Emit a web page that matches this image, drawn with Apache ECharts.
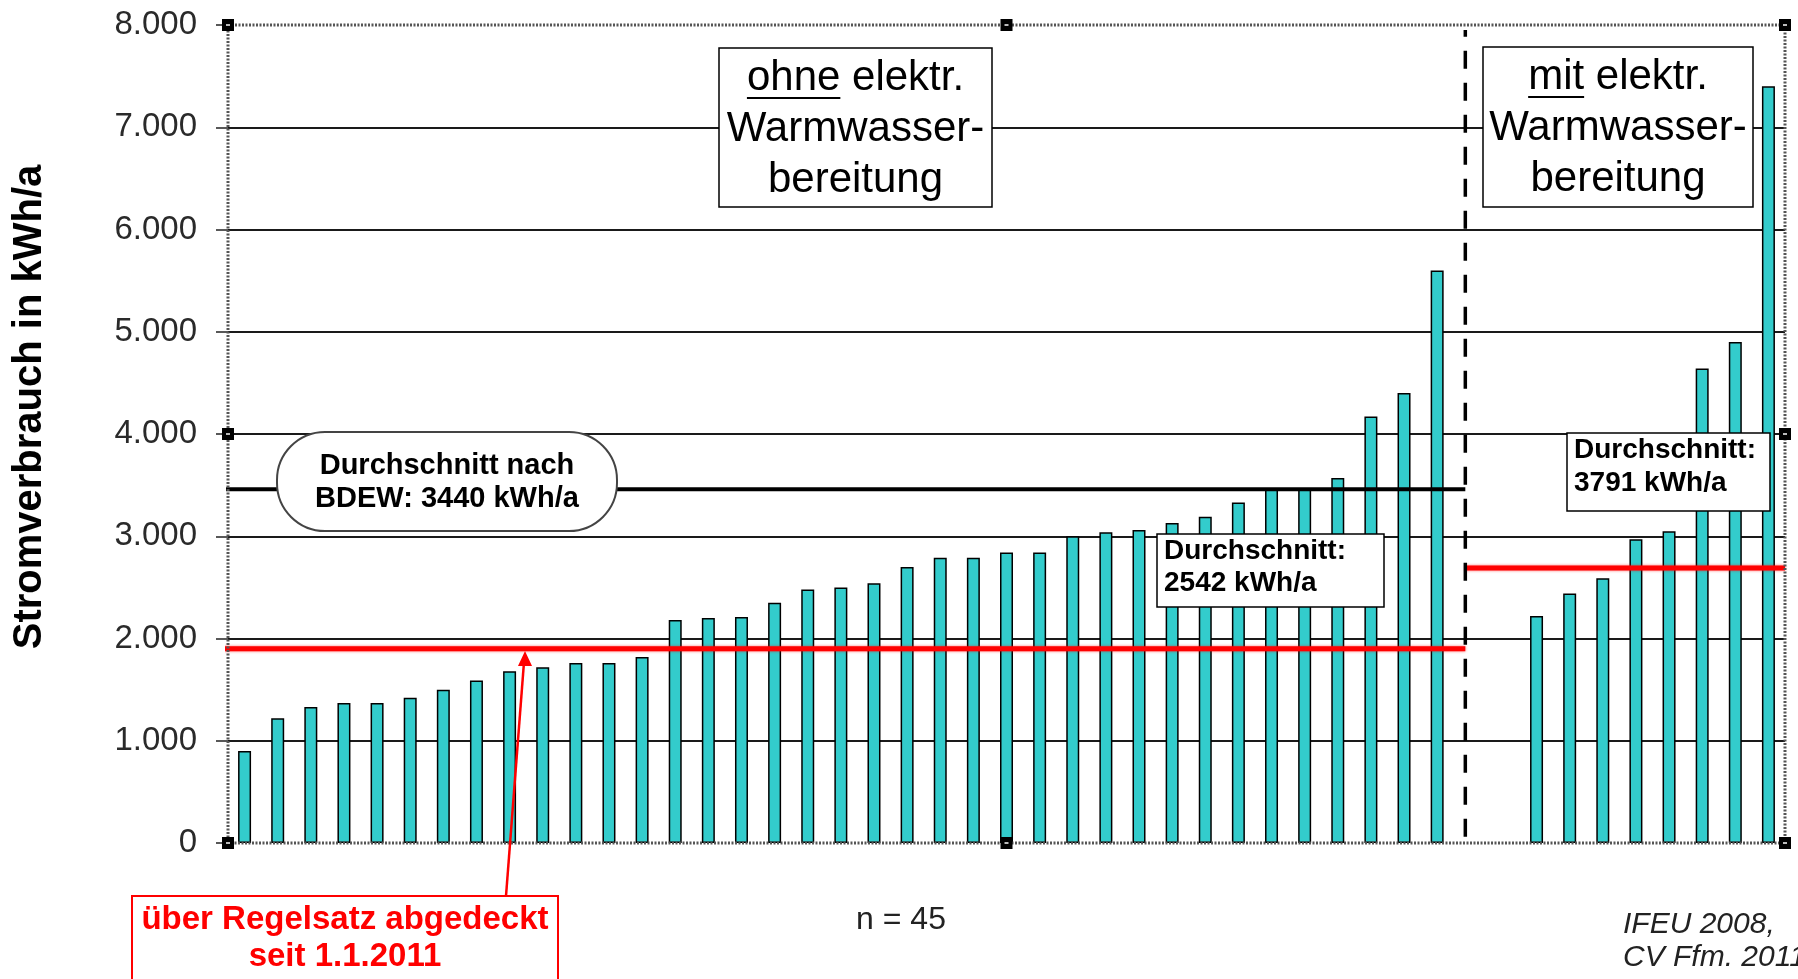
<!DOCTYPE html>
<html>
<head>
<meta charset="utf-8">
<script src="https://cdn.jsdelivr.net/npm/echarts@6/dist/echarts.min.js"></script>
<style>
html,body{margin:0;padding:0;background:#fff;}
#chart{width:1798px;height:979px;}
</style>
</head>
<body>
<div id="chart"></div>
<script>
// ---- data ----
const ohneValues = [900,1220,1330,1370,1370,1420,1500,1590,1680,1720,1760,1760,1820,2180,2200,2210,2350,2480,2500,2540,2700,2790,2790,2840,2840,3000,3040,3060,3130,3190,3330,3470,3470,3570,4170,4400,5600];
const gapSlots = 2;
const mitValues = [2220,2440,2590,2970,3050,4640,4900,7400];
const bdewAverage = 3460;          // black line "Durchschnitt nach BDEW"
const regelsatzOhne = 1900;        // red line, left group
const regelsatzMit = 2690;         // red line, right group
const yMin = 0, yMax = 8000, yInterval = 1000;

// ---- derived ----
const barData = [...ohneValues, ...Array(gapSlots).fill(null), ...mitValues];
const categories = barData.map((v, i) => String(i + 1));
const nSlots = categories.length;
const dividerPos = ohneValues.length + 0.35;   // position of the dashed divider in slot units
const lineStart = -0.3;

const FONT = '"Liberation Sans", Arial, Helvetica, sans-serif';
const G = {left: 228, right: 1785, top: 25, bottom: 843};

function textW(str, font) {
  const c = document.createElement('canvas').getContext('2d');
  c.font = font;
  return c.measureText(str).width;
}

const chart = echarts.init(document.getElementById('chart'), null, {renderer: 'canvas'});

function fmt(v) {
  return String(v).replace(/\B(?=(\d{3})+(?!\d))/g, '.');
}

const boxFont = '42px ' + FONT;
function underline(cx, cy, full, word) {
  const wFull = textW(full, boxFont);
  const wWord = textW(word, boxFont);
  const x0 = cx - wFull / 2;
  return {type: 'line', z: 21, shape: {x1: x0, y1: cy + 20, x2: x0 + wWord, y2: cy + 20}, style: {stroke: '#000', lineWidth: 2}};
}

const handles = [];
[G.left, (G.left + G.right) / 2, G.right].forEach(x => {
  [G.top, (G.top + G.bottom) / 2, G.bottom].forEach(y => {
    if (x === (G.left + G.right) / 2 && y === (G.top + G.bottom) / 2) return;
    handles.push({type: 'rect', z: 30, shape: {x: x - 6, y: y - 6, width: 12, height: 12}, style: {fill: '#000'}});
    handles.push({type: 'rect', z: 31, shape: {x: x - 2, y: y - 1, width: 4, height: 2}, style: {fill: '#bbb'}});
  });
});

const option = {
  animation: false,
  backgroundColor: '#fff',
  grid: {left: G.left, right: 1798 - G.right, top: G.top, bottom: 979 - G.bottom, containLabel: false},
  xAxis: [
    {type: 'category', data: categories, axisLine: {show: false}, axisTick: {show: false}, axisLabel: {show: false}, splitLine: {show: false}},
    {type: 'value', min: 0, max: nSlots, show: false}
  ],
  yAxis: {
    type: 'value', min: yMin, max: yMax, interval: yInterval,
    axisLine: {show: false},
    axisTick: {show: true, length: 12, lineStyle: {color: '#222', width: 1.5}},
    axisLabel: {formatter: fmt, fontSize: 33, color: '#2a2a2a', margin: 31, fontFamily: FONT},
    splitLine: {show: true, showMinLine: false, showMaxLine: false, lineStyle: {color: '#1a1a1a', width: 2}}
  },
  series: [
    {type: 'bar', xAxisIndex: 0, data: barData, barWidth: 13, z: 2,
     itemStyle: {color: '#33CCCC', borderColor: '#000', borderWidth: 1.5}},
    {type: 'line', xAxisIndex: 1, clip: false, symbol: 'none', z: 4, silent: true,
     data: [[lineStart, bdewAverage], [dividerPos, bdewAverage]],
     lineStyle: {color: '#000', width: 4}},
    {type: 'line', xAxisIndex: 1, clip: false, symbol: 'none', z: 4, silent: true,
     data: [[lineStart, regelsatzOhne], [dividerPos, regelsatzOhne]],
     lineStyle: {color: '#ff0000', width: 5, shadowColor: 'rgba(255,0,0,0.6)', shadowBlur: 3}},
    {type: 'line', xAxisIndex: 1, clip: false, symbol: 'none', z: 4, silent: true,
     data: [[dividerPos, regelsatzMit], [nSlots, regelsatzMit]],
     lineStyle: {color: '#ff0000', width: 5, shadowColor: 'rgba(255,0,0,0.6)', shadowBlur: 3}},
    {type: 'line', xAxisIndex: 1, clip: false, symbol: 'none', z: 4, silent: true,
     data: [[dividerPos, yMin + 60], [dividerPos, yMax - 50]],
     lineStyle: {color: '#000', width: 3.5, type: [18, 14]}}
  ],
  graphic: [
    // plot area dotted border (selection frame)
    {type: 'rect', z: 8, shape: {x: G.left, y: G.top, width: G.right - G.left, height: G.bottom - G.top},
     style: {fill: null, stroke: '#555', lineWidth: 3, lineDash: [2, 1.5]}},
    ...handles,
    // y-axis title
    {type: 'text', z: 20, x: 30, y: 407, rotation: Math.PI / 2,
     style: {text: 'Stromverbrauch in kWh/a', font: 'bold 40px ' + FONT, fill: '#000', align: 'center', verticalAlign: 'middle'}},
    // "ohne" box
    {type: 'rect', z: 20, shape: {x: 719, y: 48, width: 273, height: 159}, style: {fill: '#fff', stroke: '#000', lineWidth: 1.5}},
    {type: 'text', z: 21, style: {x: 855.5, y: 129, text: 'ohne elektr.\nWarmwasser-\nbereitung', font: boxFont, lineHeight: 51, fill: '#000', align: 'center', verticalAlign: 'middle'}},
    underline(855.5, 78, 'ohne elektr.', 'ohne'),
    // "mit" box
    {type: 'rect', z: 20, shape: {x: 1483, y: 47, width: 270, height: 160}, style: {fill: '#fff', stroke: '#000', lineWidth: 1.5}},
    {type: 'text', z: 21, style: {x: 1618, y: 128, text: 'mit elektr.\nWarmwasser-\nbereitung', font: boxFont, lineHeight: 51, fill: '#000', align: 'center', verticalAlign: 'middle'}},
    underline(1618, 77, 'mit elektr.', 'mit'),
    // BDEW pill
    {type: 'rect', z: 20, shape: {x: 277, y: 432, width: 340, height: 99, r: 48}, style: {fill: '#fff', stroke: '#444', lineWidth: 2}},
    {type: 'text', z: 21, style: {x: 447, y: 482, text: 'Durchschnitt nach\nBDEW: 3440 kWh/a', font: 'bold 29px ' + FONT, lineHeight: 33, fill: '#000', align: 'center', verticalAlign: 'middle'}},
    // average ohne
    {type: 'rect', z: 20, shape: {x: 1157, y: 534, width: 227, height: 73}, style: {fill: '#fff', stroke: '#000', lineWidth: 1.5}},
    {type: 'text', z: 21, style: {x: 1164, y: 567, text: 'Durchschnitt:\n2542 kWh/a', font: 'bold 28px ' + FONT, lineHeight: 32, fill: '#000', align: 'left', verticalAlign: 'middle'}},
    // average mit
    {type: 'rect', z: 20, shape: {x: 1567, y: 433, width: 203, height: 78}, style: {fill: '#fff', stroke: '#000', lineWidth: 1.5}},
    {type: 'text', z: 21, style: {x: 1574, y: 467, text: 'Durchschnitt:\n3791 kWh/a', font: 'bold 28px ' + FONT, lineHeight: 33, fill: '#000', align: 'left', verticalAlign: 'middle'}},
    // red callout
    {type: 'line', z: 20, shape: {x1: 506, y1: 896, x2: 524, y2: 662}, style: {stroke: '#ff0000', lineWidth: 2.5}},
    {type: 'polygon', z: 20, shape: {points: [[525, 651], [518, 666], [532, 666]]}, style: {fill: '#ff0000'}},
    {type: 'rect', z: 20, shape: {x: 132, y: 896, width: 426, height: 120}, style: {fill: '#fff', stroke: '#ff0000', lineWidth: 2}},
    {type: 'text', z: 21, style: {x: 345, y: 938, text: 'über Regelsatz abgedeckt\nseit 1.1.2011', font: 'bold 33px ' + FONT, lineHeight: 37, fill: '#ff0000', align: 'center', verticalAlign: 'middle'}},
    // n = 45
    {type: 'text', z: 21, style: {x: 901, y: 920, text: 'n = 45', font: '32px ' + FONT, fill: '#222', align: 'center', verticalAlign: 'middle'}},
    // source
    {type: 'text', z: 21, style: {x: 1623, y: 941, text: 'IFEU 2008,\nCV Ffm. 2011', font: 'italic 30px ' + FONT, lineHeight: 33, fill: '#222', align: 'left', verticalAlign: 'middle'}}
  ]
};
chart.setOption(option);
</script>
</body>
</html>
